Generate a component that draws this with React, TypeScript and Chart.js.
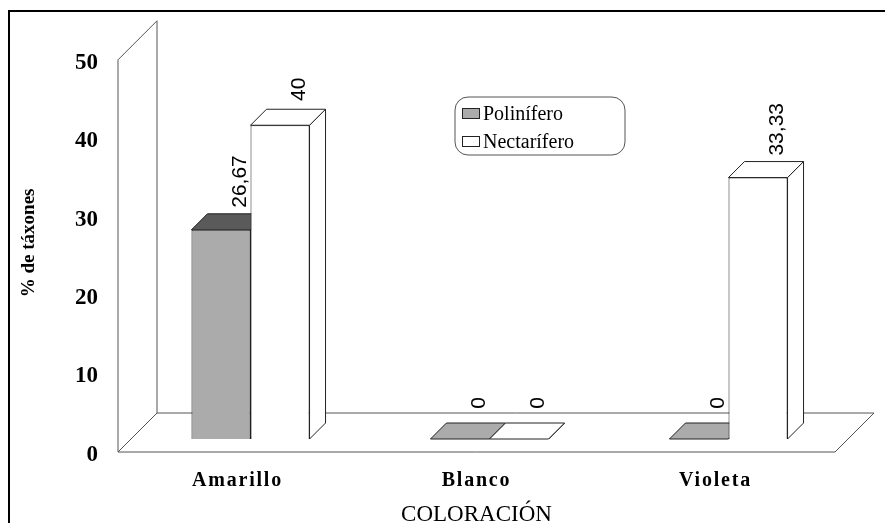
import React, { useEffect, useRef } from 'react';
import { Chart, registerables, CategoryScale } from 'chart.js';

Chart.register(...registerables);

// ---- data ----
const categories = ['Amarillo', 'Blanco', 'Violeta'];
const seriesNames = ['Polinífero', 'Nectarífero'];
const polinifero = [26.67, 0, 0];
const nectarifero = [40, 0, 33.33];
const yMin = 0;
const yMax = 50;
const yStep = 10;

// ---- styles ----
const GRAY_FRONT = '#ababab';
const GRAY_TOP = '#5a5a5a';
const WHITE = '#ffffff';
const EDGE = '#222222';
const FRONT = { dx: -13, dy: 13 };
const BACK = { dx: 26, dy: -26 };
const DEPTH = 16;

class SpacedCategoryScale extends (CategoryScale as any) {
  static id = 'spacedCategory';
  drawTitle() {
    const ctx = (this as any).ctx;
    ctx.save();
    ctx.translate(FRONT.dx, 0);
    super.drawTitle();
    ctx.restore();
  }
  drawLabels(chartArea: any) {
    const ctx = (this as any).ctx;
    const prev = ctx.letterSpacing;
    ctx.letterSpacing = '1.8px';
    super.drawLabels(chartArea);
    ctx.letterSpacing = prev;
  }
}
Chart.register(SpacedCategoryScale as any);

function poly(ctx: CanvasRenderingContext2D, pts: number[][], fill: string | null, stroke: string | null, lw = 1) {
  ctx.beginPath();
  ctx.moveTo(pts[0][0], pts[0][1]);
  for (let i = 1; i < pts.length; i++) ctx.lineTo(pts[i][0], pts[i][1]);
  ctx.closePath();
  if (fill) {
    ctx.fillStyle = fill;
    ctx.fill();
  }
  if (stroke) {
    ctx.strokeStyle = stroke;
    ctx.lineWidth = lw;
    ctx.stroke();
  }
}

const topColors = [GRAY_TOP, WHITE];

const threeD = {
  id: 'threeD',
  beforeDraw(chart: any) {
    const { ctx, width, height } = chart;
    ctx.save();
    ctx.fillStyle = '#fff';
    ctx.fillRect(0, 0, width, height);
    ctx.strokeStyle = '#000';
    ctx.lineWidth = 2;
    ctx.beginPath();
    ctx.moveTo(9, height + 5);
    ctx.lineTo(9, 11);
    ctx.lineTo(width + 5, 11);
    ctx.stroke();
    ctx.restore();
  },
  beforeDatasetsDraw(chart: any) {
    const { ctx, chartArea: a, scales } = chart;
    const y0 = scales.y.getPixelForValue(yMin);
    const yT = scales.y.getPixelForValue(yMax);
    const L = a.left;
    const R = a.right;
    ctx.save();
    // left wall
    poly(
      ctx,
      [
        [L + FRONT.dx, y0 + FRONT.dy],
        [L + FRONT.dx, yT + FRONT.dy],
        [L + BACK.dx, yT + BACK.dy],
        [L + BACK.dx, y0 + BACK.dy],
      ],
      '#fff',
      '#555',
      1
    );
    // floor
    poly(
      ctx,
      [
        [L + FRONT.dx, y0 + FRONT.dy],
        [R + FRONT.dx, y0 + FRONT.dy],
        [R + BACK.dx, y0 + BACK.dy],
        [L + BACK.dx, y0 + BACK.dy],
      ],
      '#fff',
      '#555',
      1
    );
    // bar side and top faces
    chart.data.datasets.forEach((ds: any, i: number) => {
      const meta = chart.getDatasetMeta(i);
      meta.data.forEach((bar: any, j: number) => {
        const { x, y, width, base } = bar.getProps(['x', 'y', 'width', 'base'], true);
        const l = x - width / 2;
        const r = x + width / 2;
        const v = ds.data[j];
        const front = ds.backgroundColor;
        poly(ctx, [[r, y], [r + DEPTH, y - DEPTH], [r + DEPTH, base - DEPTH], [r, base]], front === WHITE ? WHITE : front, EDGE, 1);
        poly(ctx, [[l, y], [r, y], [r + DEPTH, y - DEPTH], [l + DEPTH, y - DEPTH]], v > 0 ? topColors[i] : front, EDGE, 1);
      });
    });
    ctx.restore();
  },
  afterDatasetsDraw(chart: any) {
    const { ctx } = chart;
    ctx.save();
    // value labels (rotated)
    ctx.font = '21px "Liberation Sans", Arial, sans-serif';
    ctx.fillStyle = '#000';
    ctx.textBaseline = 'middle';
    ctx.textAlign = 'center';
    chart.data.datasets.forEach((ds: any, i: number) => {
      const meta = chart.getDatasetMeta(i);
      meta.data.forEach((bar: any, j: number) => {
        const { x, y } = bar.getProps(['x', 'y'], true);
        const txt = String(ds.data[j]).replace('.', ',');
        const w = ctx.measureText(txt).width;
        const cx = x + DEPTH + 3;
        const cy = y - DEPTH - Math.max(20, w / 2 + 6);
        ctx.save();
        ctx.translate(cx, cy);
        ctx.rotate(-Math.PI / 2);
        ctx.fillText(txt, 0, 0);
        ctx.restore();
      });
    });

    // legend with rounded border
    const lx = 455, ly = 97, lw = 170, lh = 58, rad = 13;
    ctx.beginPath();
    ctx.moveTo(lx + rad, ly);
    ctx.arcTo(lx + lw, ly, lx + lw, ly + lh, rad);
    ctx.arcTo(lx + lw, ly + lh, lx, ly + lh, rad);
    ctx.arcTo(lx, ly + lh, lx, ly, rad);
    ctx.arcTo(lx, ly, lx + lw, ly, rad);
    ctx.closePath();
    ctx.fillStyle = '#fff';
    ctx.fill();
    ctx.strokeStyle = '#555';
    ctx.lineWidth = 1;
    ctx.stroke();
    ctx.font = '20px "Liberation Serif", "Times New Roman", serif';
    ctx.textAlign = 'left';
    ctx.textBaseline = 'alphabetic';
    chart.data.datasets.forEach((ds: any, i: number) => {
      const by = ly + 11 + i * 28;
      ctx.fillStyle = ds.backgroundColor;
      ctx.fillRect(lx + 7.5, by + 0.5, 17, 10);
      ctx.strokeStyle = EDGE;
      ctx.strokeRect(lx + 7.5, by + 0.5, 17, 10);
      ctx.fillStyle = '#000';
      ctx.fillText(ds.label, lx + 28, by + 12);
    });
    ctx.restore();
  },
};

export default function App() {
  const ref = useRef<HTMLCanvasElement | null>(null);
  useEffect(() => {
    if (!ref.current) return;
    const chart = new Chart(ref.current, {
      type: 'bar',
      data: {
        labels: categories,
        datasets: [
          {
            label: seriesNames[0],
            data: polinifero,
            backgroundColor: GRAY_FRONT,
            borderColor: EDGE,
            borderWidth: 1,
            barPercentage: 1,
            categoryPercentage: 0.494,
          },
          {
            label: seriesNames[1],
            data: nectarifero,
            backgroundColor: WHITE,
            borderColor: EDGE,
            borderWidth: 1,
            barPercentage: 1,
            categoryPercentage: 0.494,
          },
        ],
      },
      options: {
        animation: false,
        responsive: false,
        events: [],
        layout: { padding: { left: 10, top: 44, right: 37, bottom: 0 } },
        plugins: {
          legend: { display: false },
          tooltip: { enabled: false },
        },
        scales: {
          x: {
            type: 'spacedCategory' as any,
            grid: { display: false, drawTicks: false },
            border: { display: false },
            ticks: {
              color: '#000',
              font: { family: '"Liberation Serif", "Times New Roman", serif', size: 20, weight: 'bold' },
              padding: 30,
              labelOffset: FRONT.dx,
              maxRotation: 0,
              autoSkip: false,
            },
            title: {
              display: true,
              text: 'COLORACIÓN',
              color: '#000',
              font: { family: '"Liberation Serif", "Times New Roman", serif', size: 23, weight: 'normal' },
              padding: { top: 0, bottom: -6 },
            },
            afterFit: (s: any) => {
              s.height = 84;
            },
          },
          y: {
            min: yMin,
            max: yMax,
            grid: { display: false, drawTicks: false },
            border: { display: false },
            ticks: {
              stepSize: yStep,
              color: '#000',
              font: { family: '"Liberation Serif", "Times New Roman", serif', size: 23, weight: 'bold' },
              padding: 33,
              labelOffset: 16,
            },
            title: {
              display: true,
              text: '% de táxones',
              color: '#000',
              font: { family: '"Liberation Serif", "Times New Roman", serif', size: 19, weight: 'bold' },
              padding: { top: 8, bottom: 0 },
            },
            afterFit: (s: any) => {
              s.width = 121;
            },
          },
        },
      },
      plugins: [threeD],
    } as any);
    return () => chart.destroy();
  }, []);
  return (
    <div style={{ position: 'fixed', left: 0, top: 0, width: 885, height: 523 }}>
      <canvas ref={ref} width={885} height={523} style={{ display: 'block', width: 885, height: 523 }} />
    </div>
  );
}
